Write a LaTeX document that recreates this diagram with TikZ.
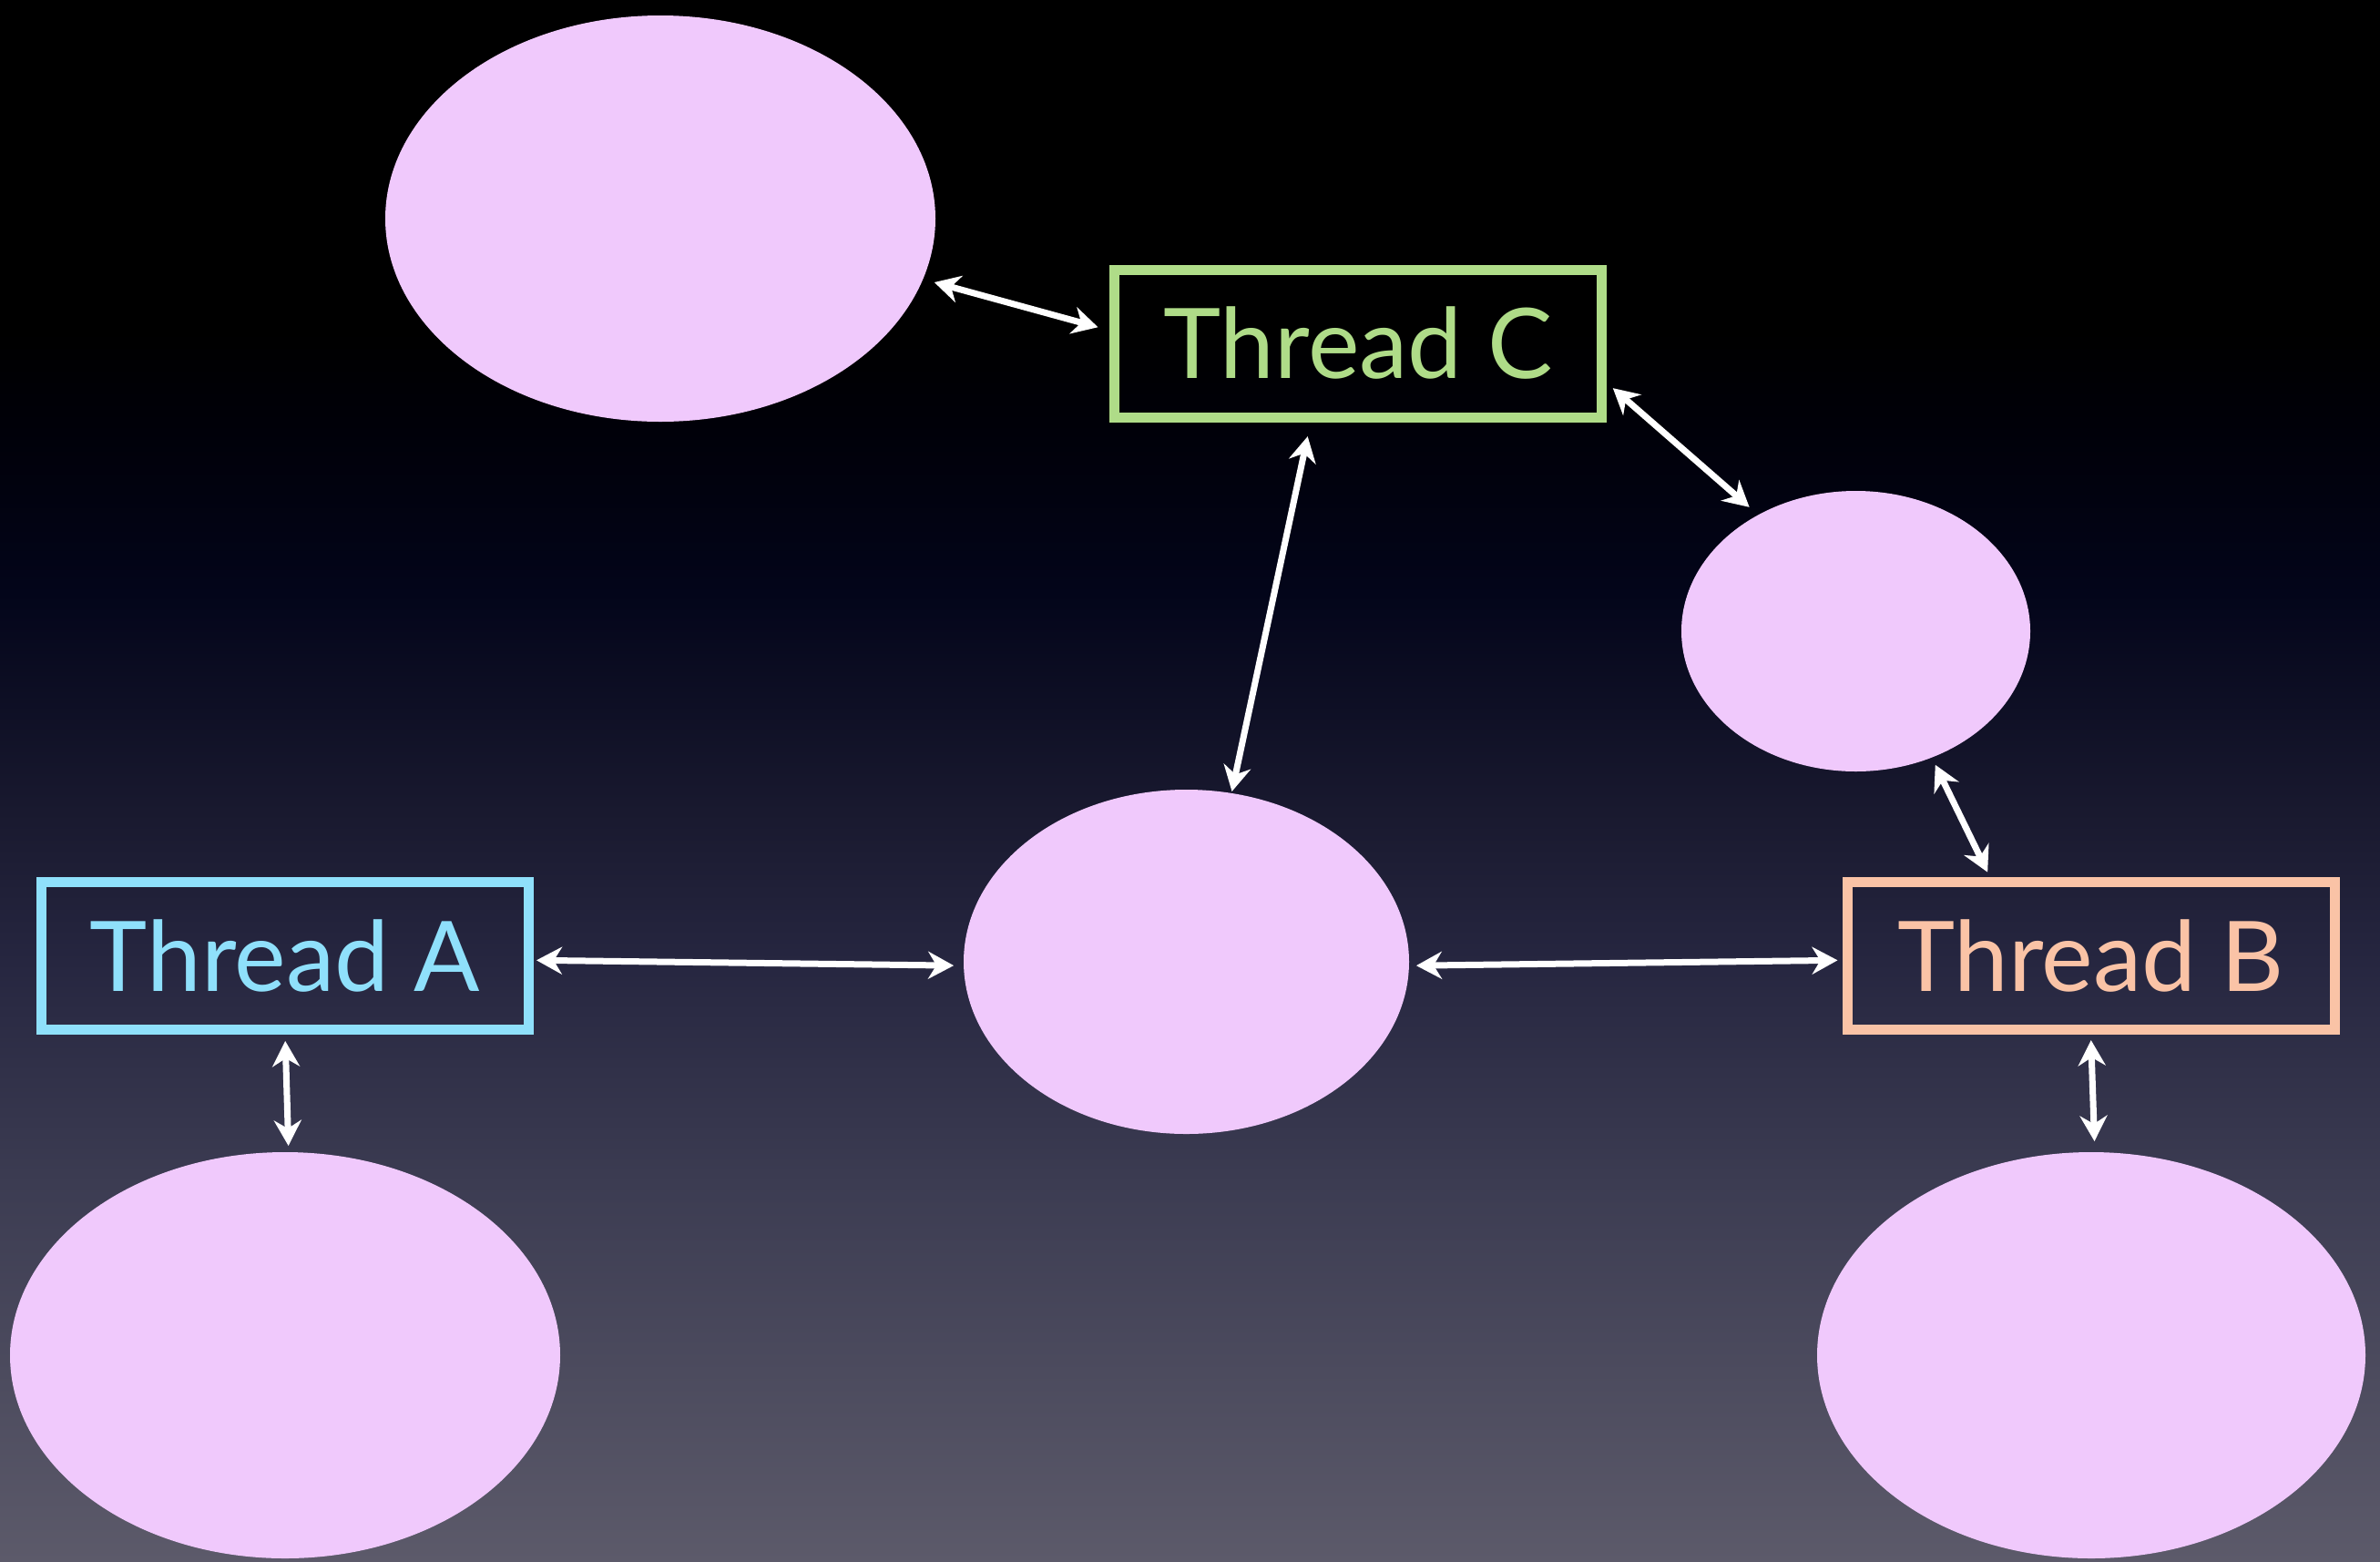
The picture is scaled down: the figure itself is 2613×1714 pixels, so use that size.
\documentclass[tikz,border=0pt]{standalone}
\usepackage{fontspec}
\setmainfont{Lato}
\usetikzlibrary{shapes.geometric,arrows.meta}
\definecolor{cbot}{HTML}{5C5A6A}
\definecolor{cga}{HTML}{3C3C52}
\definecolor{cgb}{HTML}{262640}
\definecolor{cgc}{HTML}{1A1A30}
\definecolor{cgd}{HTML}{03051A}
\definecolor{cge}{HTML}{000008}
\definecolor{blobfill}{HTML}{F0C9FC}
\definecolor{tgreen}{HTML}{AFDC88}
\definecolor{tblue}{HTML}{8FE0FB}
\definecolor{tpeach}{HTML}{FAC3A6}
\pgfdeclareverticalshading{bgshade}{100bp}{color(0bp)=(cbot); color(25bp)=(cbot); color(37.08bp)=(cga); color(44.2bp)=(cgb); color(48.66bp)=(cgc); color(56bp)=(cgd); color(61.46bp)=(cge); color(64.4bp)=(black); color(100bp)=(black)}
\begin{document}
\begin{tikzpicture}[x=1pt,y=-1pt,
  blob/.style={ellipse, fill=blobfill, draw=none, inner sep=0pt, outer sep=0pt},
  thread/.style={rectangle, draw=#1, text=#1, line width=11pt, minimum width=535pt,
    minimum height=162pt, inner sep=0pt, font=\fontsize{107}{120}\selectfont,
    text height=77pt, text depth=0pt},
  link/.style={{Stealth[length=28pt,width=30pt,inset=9pt]}-{Stealth[length=28pt,width=30pt,inset=9pt]},
    draw=white, line width=7pt}
]
\useasboundingbox (0,0) rectangle (2613,1714);
\shade[shading=bgshade] (0,0) rectangle (2613,1714);

\node[blob, minimum width=604pt, minimum height=446pt] (tl) at (725,240) {};
\node[blob, minimum width=383pt, minimum height=308pt] (rt) at (2037.5,693) {};
\node[blob, minimum width=489pt, minimum height=378pt] (ce) at (1302.5,1056) {};
\node[blob, minimum width=604pt, minimum height=446pt] (bl) at (313,1488) {};
\node[blob, minimum width=602pt, minimum height=446pt] (br) at (2296,1488) {};

\node[thread=tgreen] (C) at (1491,377) {Thread C};
\node[thread=tblue] (A) at (313,1049.5) {Thread A};
\node[thread=tpeach] (B) at (2295.5,1049.5) {Thread B};

\draw[link, shorten <=13pt, shorten >=13pt] (tl.-13.5) -- (C.177.8);
\draw[link, shorten <=9pt, shorten >=13pt] (C.-9.5) -- (rt.130);
\draw[link, shorten <=16pt, shorten >=2pt] (C.-121.5) -- (ce.75);
\draw[link, shorten <=3pt, shorten >=11pt] (A.-1.35) -- (ce.181.1);
\draw[link, shorten <=8pt, shorten >=5pt] (ce.-1.13) -- (B.181.5);
\draw[link, shorten <=9pt, shorten >=6pt] (rt.-59.5) -- (B.142.4);
\draw[link, shorten <=7pt, shorten >=7pt] (A.-90.3) -- (bl.89.7);
\draw[link, shorten <=6pt, shorten >=12pt] (B.-90.3) -- (br.89.8);
\end{tikzpicture}
\end{document}
